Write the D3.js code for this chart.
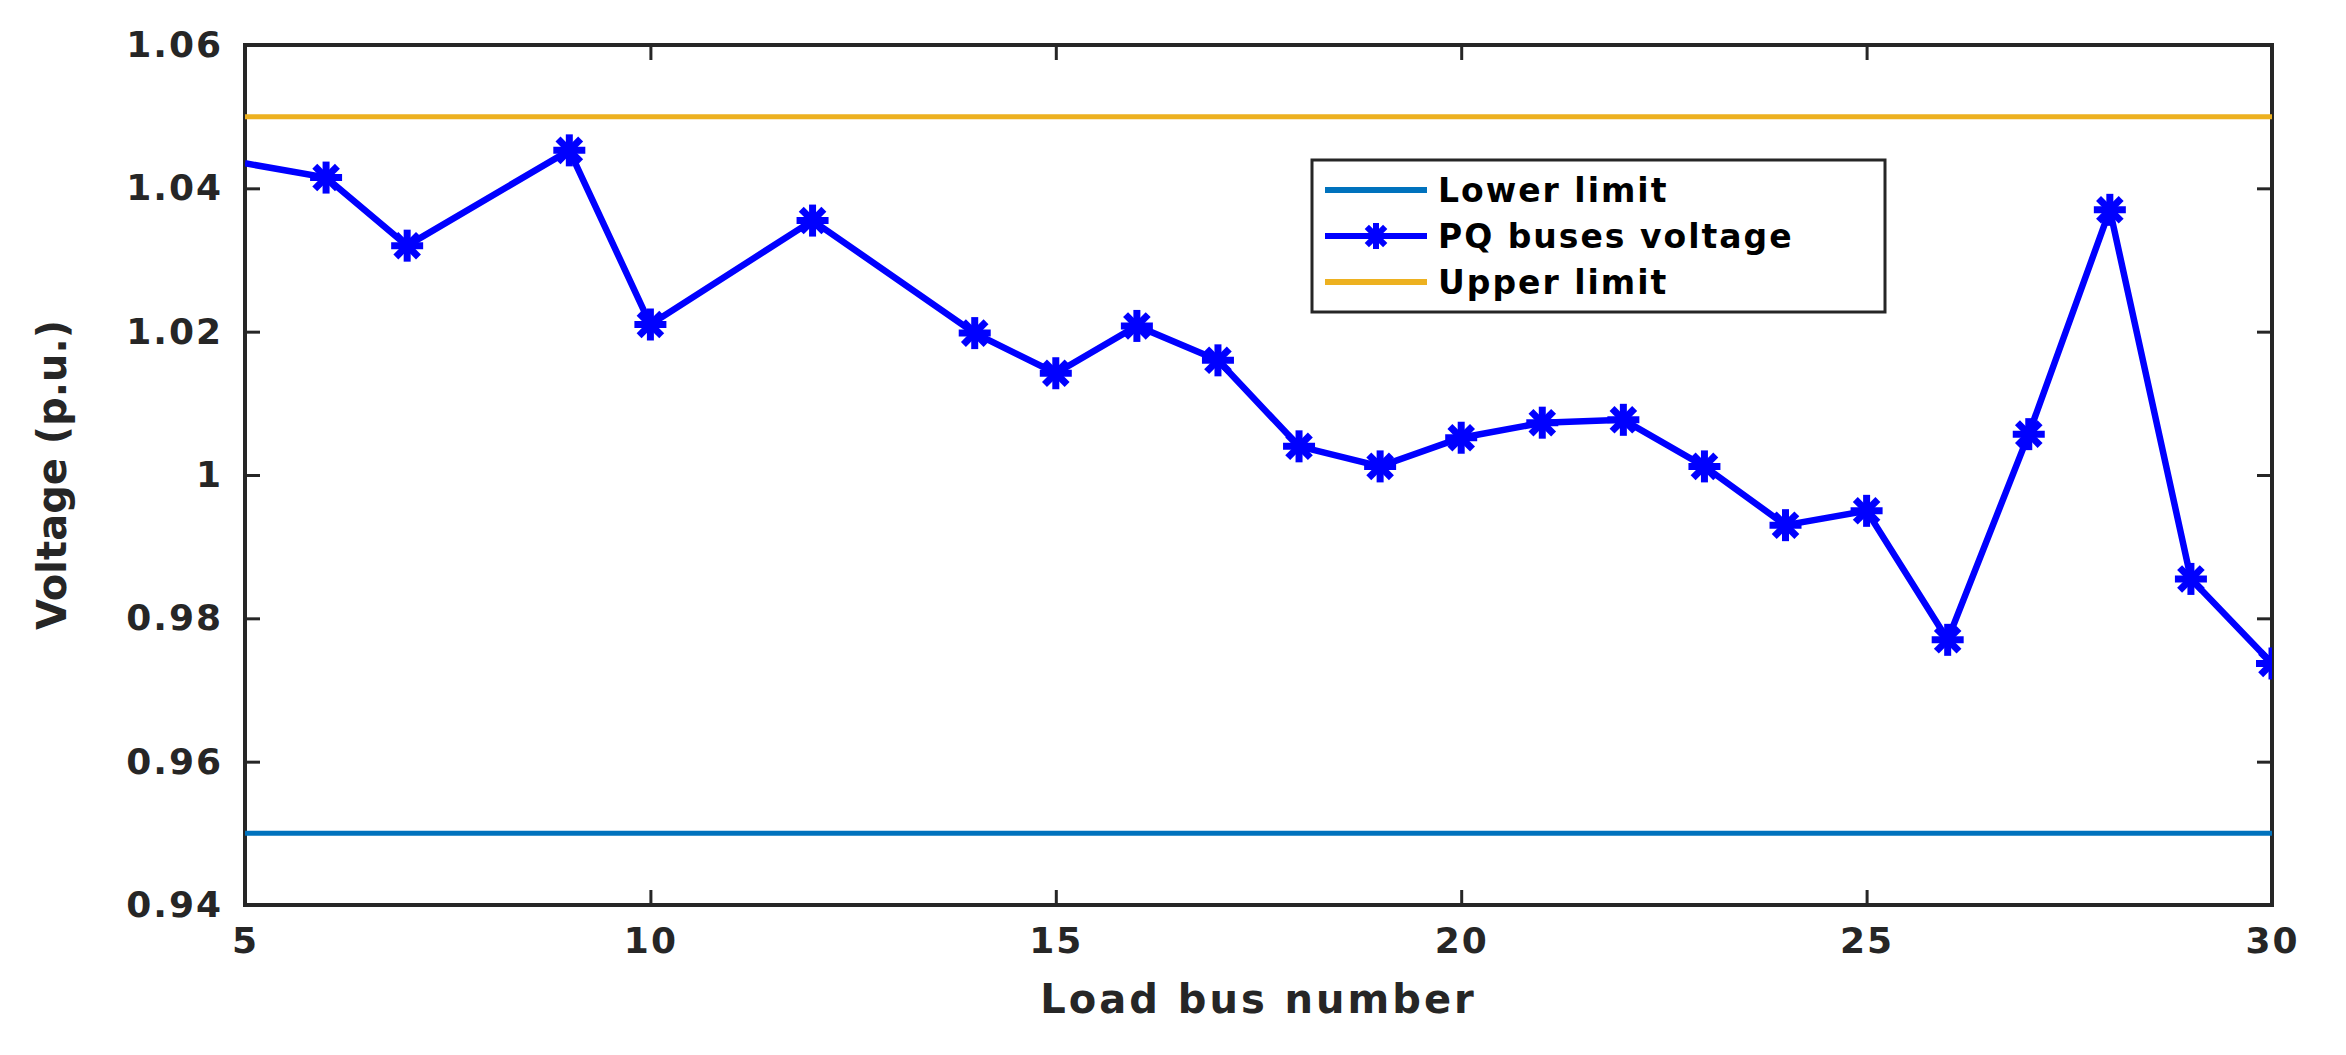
<!DOCTYPE html>
<html><head><meta charset="utf-8">
<script src="https://cdn.jsdelivr.net/npm/d3@7"></script>
<style>body{margin:0;background:#fff;font-family:"DejaVu Sans",Arial,sans-serif;font-weight:bold}</style>
</head><body><svg id="c"></svg>
<script>
const buses = [5, 6, 7, 9, 10, 12, 14, 15, 16, 17, 18, 19, 20, 21, 22, 23, 24, 25, 26, 27, 28, 29, 30];
const voltages = [1.0435, 1.0415, 1.032, 1.0453, 1.021, 1.0355, 1.0198, 1.0142, 1.0208, 1.016, 1.004, 1.0012, 1.0052, 1.0073, 1.0077, 1.0012, 0.993, 0.995, 0.977, 1.0057, 1.037, 0.9855, 0.9737];
const lowerLimit = 0.95, upperLimit = 1.05;
const xTicks = [5, 10, 15, 20, 25, 30];
const yTicks = [0.94, 0.96, 0.98, 1, 1.02, 1.04, 1.06];
const legendLabels = ["Lower limit", "PQ buses voltage", "Upper limit"];

const W = 2346, H = 1055;
const m = {left: 245, right: 74, top: 45, bottom: 150};
const FONT = "DejaVu Sans, Arial, sans-serif";
const svg = d3.select("#c").attr("width", W).attr("height", H);
const iw = W - m.left - m.right, ih = H - m.top - m.bottom;
const x = d3.scaleLinear().domain([5, 30]).range([0, iw]);
const y = d3.scaleLinear().domain([0.94, 1.06]).range([ih, 0]);
const g = svg.append("g").attr("transform", `translate(${m.left},${m.top})`);

g.append("clipPath").attr("id", "clip").append("rect").attr("width", iw).attr("height", ih);

// axes with inward ticks, MATLAB box style
const fmt = d => d === 1 ? "1" : d3.format(".2f")(d);
g.append("g").attr("transform", `translate(0,${ih})`)
  .call(d3.axisBottom(x).tickValues(xTicks).tickSizeInner(-15).tickSizeOuter(0).tickPadding(22));
g.append("g").call(d3.axisLeft(y).tickValues(yTicks).tickFormat(fmt).tickSizeInner(-15).tickSizeOuter(0).tickPadding(22));
g.append("g").call(d3.axisTop(x).tickValues(xTicks).tickSizeInner(-15).tickSizeOuter(0).tickFormat(""));
g.append("g").attr("transform", `translate(${iw},0)`)
  .call(d3.axisRight(y).tickValues(yTicks).tickSizeInner(-15).tickSizeOuter(0).tickFormat(""));
g.selectAll(".domain").remove();
g.selectAll(".tick line").attr("stroke", "#262626").attr("stroke-width", 3);
g.selectAll(".tick text").attr("fill", "#262626").style("font-size", "36px").style("font-weight", "bold")
  .style("letter-spacing", "2px").style("font-family", FONT);
g.append("rect").attr("width", iw).attr("height", ih).attr("fill", "none").attr("stroke", "#262626").attr("stroke-width", 4);

const plot = g.append("g").attr("clip-path", "url(#clip)");
plot.append("line").attr("x1", 0).attr("x2", iw).attr("y1", y(lowerLimit)).attr("y2", y(lowerLimit))
  .attr("stroke", "#0072BD").attr("stroke-width", 5);
plot.append("line").attr("x1", 0).attr("x2", iw).attr("y1", y(upperLimit)).attr("y2", y(upperLimit))
  .attr("stroke", "#EDB120").attr("stroke-width", 5);
const pts = buses.map((b, i) => [b, voltages[i]]);
plot.append("path").datum(pts).attr("fill", "none").attr("stroke", "#0000FF").attr("stroke-width", 6.5)
  .attr("d", d3.line().x(d => x(d[0])).y(d => y(d[1])));

function star(sel, cx, cy, r, w) {
  const s = sel.append("g").attr("transform", `translate(${cx},${cy})`).attr("stroke", "#0000FF").attr("stroke-width", w);
  [0, 45, 90, 135].forEach(a => {
    const t = a * Math.PI / 180;
    s.append("line").attr("x1", -r * Math.cos(t)).attr("y1", -r * Math.sin(t)).attr("x2", r * Math.cos(t)).attr("y2", r * Math.sin(t));
  });
}
pts.slice(1).forEach(d => star(plot, x(d[0]), y(d[1]), 16, 7));

// axis labels
svg.append("text").attr("x", m.left + iw / 2).attr("y", 1013).attr("text-anchor", "middle")
  .style("font-size", "40px").style("letter-spacing", "3px").attr("fill", "#262626").text("Load bus number");
svg.append("text").attr("transform", `translate(66,${m.top + ih / 2}) rotate(-90)`).attr("text-anchor", "middle")
  .style("font-size", "40px").attr("fill", "#262626").text("Voltage (p.u.)");

// legend
const lg = svg.append("g").attr("transform", "translate(1312,160)");
lg.append("rect").attr("width", 573).attr("height", 152).attr("fill", "#fff").attr("stroke", "#262626").attr("stroke-width", 3);
const lcol = ["#0072BD", "#0000FF", "#EDB120"];
legendLabels.forEach((t, i) => {
  const yy = 30 + i * 46;
  lg.append("line").attr("x1", 13).attr("x2", 115).attr("y1", yy).attr("y2", yy).attr("stroke", lcol[i]).attr("stroke-width", 6);
  if (i === 1) star(lg, 64, yy, 13, 6);
  lg.append("text").attr("x", 126).attr("y", yy + 12).style("font-size", "33px").style("letter-spacing", "2px")
    .attr("fill", "#000").text(t);
});
</script></body></html>
